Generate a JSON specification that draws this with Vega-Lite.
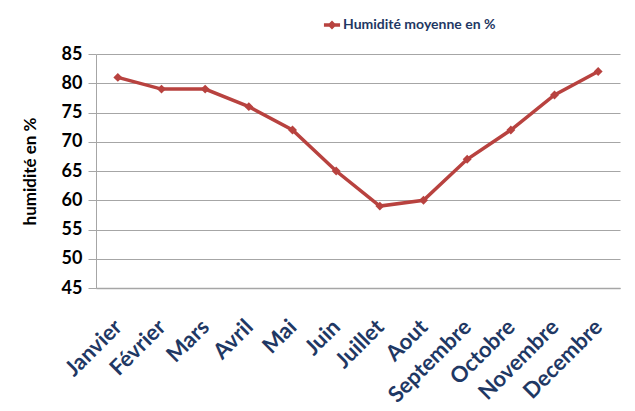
{
  "$schema": "https://vega.github.io/schema/vega-lite/v6.json",
  "width": 524,
  "height": 234,
  "autosize": "none",
  "padding": {"left": 96, "top": 54, "right": 15, "bottom": 123},
  "background": "white",
  "config": {"view": {"stroke": null}, "font": "Lato"},
  "data": {"values": [
    {"mois": "Janvier", "h": 81, "s": "Humidité moyenne en %"},
    {"mois": "Février", "h": 79, "s": "Humidité moyenne en %"},
    {"mois": "Mars", "h": 79, "s": "Humidité moyenne en %"},
    {"mois": "Avril", "h": 76, "s": "Humidité moyenne en %"},
    {"mois": "Mai", "h": 72, "s": "Humidité moyenne en %"},
    {"mois": "Juin", "h": 65, "s": "Humidité moyenne en %"},
    {"mois": "Juillet", "h": 59, "s": "Humidité moyenne en %"},
    {"mois": "Aout", "h": 60, "s": "Humidité moyenne en %"},
    {"mois": "Septembre", "h": 67, "s": "Humidité moyenne en %"},
    {"mois": "Octobre", "h": 72, "s": "Humidité moyenne en %"},
    {"mois": "Novembre", "h": 78, "s": "Humidité moyenne en %"},
    {"mois": "Decembre", "h": 82, "s": "Humidité moyenne en %"}
  ]},
  "encoding": {
    "x": {"field": "mois", "type": "nominal", "sort": null,
      "scale": {"paddingInner": 0, "paddingOuter": 0},
      "axis": {"title": null, "labelAngle": -45, "labelAlign": "right", "labelBaseline": "middle",
        "labelFont": "Lato", "labelFontWeight": "bold", "labelFontSize": 22, "labelColor": "#1f3864",
        "labelPadding": 35, "labelOverlap": false, "ticks": false, "domainColor": "#a6a6a6", "domainWidth": 1.5, "grid": false}},
    "y": {"field": "h", "type": "quantitative",
      "scale": {"domain": [45, 85], "nice": false, "zero": false},
      "axis": {"values": [45, 50, 55, 60, 65, 70, 75, 80, 85], "title": "humidité en %",
        "titleFont": "Lato", "titleFontSize": 17, "titleFontWeight": "bold", "titleColor": "black", "titlePadding": 22,
        "labelFont": "Lato", "labelFontWeight": "bold", "labelFontSize": 18, "labelColor": "black", "labelPadding": 6,
        "tickSize": 8, "tickColor": "#a6a6a6", "domainColor": "#a6a6a6", "gridColor": "#a6a6a6", "grid": true}},
    "color": {"field": "s", "type": "nominal", "scale": {"range": ["#b8423f"]},
      "legend": {"title": null, "orient": "none", "legendX": 226, "legendY": -39,
        "symbolType": "M-1,0L-0.25,0M0.25,0L1,0M0,-0.25L0.25,0L0,0.25L-0.25,0Z",
        "symbolStrokeColor": "#b8423f", "symbolFillColor": "#b8423f", "symbolStrokeWidth": 3.5, "symbolSize": 260,
        "labelFont": "Lato", "labelFontWeight": "bold", "labelFontSize": 14, "labelColor": "#1f3864", "labelOffset": 1}}
  },
  "layer": [
    {"mark": {"type": "line", "strokeWidth": 3.5}},
    {"mark": {"type": "point", "shape": "diamond", "filled": true, "size": 80, "opacity": 1}}
  ]
}
